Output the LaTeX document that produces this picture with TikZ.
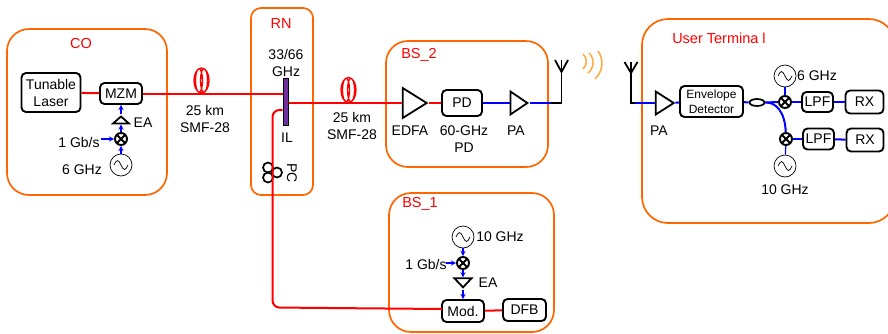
\documentclass[tikz,border=0pt]{standalone}
\usepackage{fontspec}
\setmainfont{Liberation Sans}
\usetikzlibrary{shapes.geometric,calc}

\definecolor{groupcol}{RGB}{255,102,0}
\definecolor{ilcol}{RGB}{112,48,160}
\definecolor{wavecol}{RGB}{255,170,60}

\tikzset{
  group/.style={draw=groupcol, line width=1.7pt, rounded corners=#1, inner sep=0pt},
  group/.default=22pt,
  grouplabel/.style={text=red, font=\fontsize{14.5}{16}\selectfont, inner sep=0pt},
  lbl/.style={font=\fontsize{14}{17}\selectfont, inner sep=0pt, align=center},
  block/.style={draw, line width=1.9pt, rounded corners=4.5pt, inner sep=0pt, align=center, font=\fontsize{14}{17}\selectfont},
  amp/.style={draw, line width=1.8pt, isosceles triangle, isosceles triangle stretches, inner sep=0pt},
  mixer/.style={draw, circle, line width=1.9pt, minimum size=12pt, inner sep=0pt,
    path picture={\draw[line width=1.9pt] (path picture bounding box.north west) -- (path picture bounding box.south east)
      (path picture bounding box.north east) -- (path picture bounding box.south west);}},
  source/.style={draw, circle, line width=.7pt, minimum size=22pt, inner sep=0pt,
    path picture={\draw[line width=.7pt] ($(path picture bounding box.center)+(-7,0)$) sin +(3.5,-4.5) cos +(3.5,4.5) sin +(3.5,4.5) cos +(3.5,-4.5);}},
  coil/.style={draw=red, ellipse, line width=1.4pt, minimum width=15pt, minimum height=25pt, inner sep=0pt,
    path picture={\draw[red, line width=1.3pt] (path picture bounding box.center) ++(-2.5,0) ellipse (3.5pt and 12pt) ++(5,0) ellipse (3.5pt and 12pt);}},
  optical/.style={red, line width=2pt},
  electrical/.style={blue, line width=2pt},
  drive/.style={blue, line width=1.3pt, -stealth},
  antenna/.style={draw, line width=1.8pt},
  wave/.style={wavecol, line width=1.5pt}
}

\begin{document}
\begin{tikzpicture}[x=1pt, y=-1pt]
\useasboundingbox (0,0) rectangle (888,333);

% groups
\node[group, minimum width=160pt, minimum height=166pt] (co) at (87,112) {};
\node[group=10pt, minimum width=62pt, minimum height=187pt] (rn) at (282,101.5) {};
\node[group, minimum width=162pt, minimum height=126pt] (bstwo) at (467,104) {};
\node[group, minimum width=165pt, minimum height=139pt] (bsone) at (471.5,262.5) {};
\node[group=26pt, minimum width=253pt, minimum height=204pt] (user) at (768.5,121) {};
\node[grouplabel] (colabel) at (81,44) {CO};
\node[grouplabel] (rnlabel) at (281,24) {RN};
\node[grouplabel] (bstwolabel) at (419,55) {BS\_2};
\node[grouplabel] (bsonelabel) at (420,204) {BS\_1};
\node[grouplabel] (userlabel) at (719,38) {User Termina l};

% CO
\node[block, minimum width=59pt, minimum height=39pt] (laser) at (51,92.5) {Tunable\\Laser};
\node[block, minimum width=42pt, minimum height=21pt] (mzm) at (121,93.5) {MZM};
\node[amp, shape border rotate=90, minimum width=16pt, minimum height=7pt] (eaco) at (121,120.5) {};
\node[mixer] (mixco) at (121,139) {};
\node[source] (srcco) at (121,165) {};
\node[lbl] (ealabelco) at (143,123) {EA};
\node[lbl] (bitco) at (79,142) {1 Gb/s};
\node[lbl] (ghzco) at (82,170) {6 GHz};
\coordinate (bitcoin) at (101,139);

% fibre
\node[coil] (coilone) at (201.5,80.5) {};
\node[lbl] (fibreone) at (205,118.5) {25 km\\SMF-28};
\node[coil] (coiltwo) at (348.5,90) {};
\node[lbl] (fibretwo) at (352,126) {25 km\\SMF-28};

% RN
\node[lbl] (illabeltop) at (286,62.5) {33/66\\GHz};
\node[draw, fill=ilcol, line width=.5pt, minimum width=5.5pt, minimum height=47pt, inner sep=0pt] (il) at (285.5,101.5) {};
\node[lbl] (illabel) at (287,138) {IL};
\node[draw, circle, line width=1.7pt, minimum size=10pt, inner sep=0pt] (pca) at (268,167.5) {};
\node[draw, circle, line width=1.7pt, minimum size=10pt, inner sep=0pt] (pcb) at (268,177.5) {};
\node[draw, circle, line width=1.7pt, minimum size=10pt, inner sep=0pt] (pcc) at (277,172.5) {};
\node[lbl, rotate=-90] (pclabel) at (292,173) {PC};
\coordinate (ilin) at (282.5,93.5);
\coordinate (ilport) at (282.5,110);
\coordinate (pcbend) at (272.5,110);
\coordinate (modbend) at (272.5,307.5);
\coordinate (modin) at (442,309);

% BS_2
\node[amp, minimum width=30pt, minimum height=24pt] (edfa) at (411,103) {};
\node[block, minimum width=40pt, minimum height=26pt] (pd) at (462,103) {PD};
\node[amp, minimum width=23pt, minimum height=17pt] (pa) at (516.5,103) {};
\node[lbl] (edfalabel) at (410,131) {EDFA};
\node[lbl] (pdlabel) at (464,139.5) {60-GHz\\PD};
\node[lbl] (palabel) at (516,131) {PA};
\coordinate (txfeed) at (551,103);
\coordinate (txbase) at (561.5,103);
\coordinate (txfork) at (561.5,72);
\coordinate (txtop) at (561.5,60);
\coordinate (txleft) at (555,60);
\coordinate (txright) at (568,60);

% BS_1
\node[source] (srcbs) at (463,237) {};
\node[mixer] (mixbs) at (463,263) {};
\node[amp, shape border rotate=-90, minimum width=17pt, minimum height=9pt] (eabs) at (463,282) {};
\node[block, minimum width=42pt, minimum height=22pt] (mod) at (463,311) {Mod.};
\node[block, minimum width=43pt, minimum height=22pt] (dfb) at (524.5,310) {DFB};
\node[lbl] (ghzbs) at (500,237) {10 GHz};
\node[lbl] (bitbs) at (426,264) {1 Gb/s};
\node[lbl] (ealabelbs) at (488,283) {EA};
\coordinate (bitbsin) at (446,263);

% user terminal
\coordinate (rxtop) at (631,62);
\coordinate (rxleft) at (624.5,62);
\coordinate (rxright) at (637.5,62);
\coordinate (rxfork) at (631,73);
\coordinate (rxbase) at (631,103);
\coordinate (rxfeed) at (635,103);
\node[amp, minimum width=23pt, minimum height=18pt] (parx) at (662,103) {};
\node[lbl] (parxlabel) at (659,131) {PA};
\node[block, font=\fontsize{12}{15}\selectfont, minimum width=63pt, minimum height=31pt] (env) at (711.5,101.5) {Envelope\\Detector};
\node[draw, ellipse, line width=1.7pt, minimum width=15pt, minimum height=7pt, inner sep=0pt] (split) at (757,102.5) {};
\node[mixer] (mixup) at (785,102) {};
\node[mixer] (mixlow) at (786,139) {};
\node[source] (srcup) at (785,76) {};
\node[source] (srclow) at (785,166) {};
\node[block, minimum width=31pt, minimum height=20pt] (lpfup) at (817.5,102) {LPF};
\node[block, minimum width=31pt, minimum height=21pt] (lpflow) at (818.5,139) {LPF};
\node[block, minimum width=38pt, minimum height=23pt] (rxup) at (864.5,102) {RX};
\node[block, minimum width=37pt, minimum height=23pt] (rxlow) at (865,140) {RX};
\node[lbl] (ghzup) at (817,76) {6 GHz};
\node[lbl] (ghzlow) at (785,190) {10 GHz};
\coordinate (curvea) at (776,102);
\coordinate (curveb) at (785,112);

% optical path
\draw[optical] (laser) -- (mzm);
\draw[optical] (mzm) -- (ilin);
\draw[optical] (il.east |- edfa) -- (edfa);
\draw[optical] (edfa) -- (pd);
\draw[optical, rounded corners=7pt] (ilport) -- (pcbend) -- (modbend) -- (modin);
\draw[optical] (mod) -- (dfb);

% electrical path
\draw[drive] (srcco) -- (mixco);
\draw[drive] (mixco) -- (eaco);
\draw[drive] (eaco) -- (mzm);
\draw[drive] (bitcoin) -- (mixco);
\draw[drive] (srcbs) -- (mixbs);
\draw[drive] (mixbs) -- (eabs);
\draw[drive] (eabs) -- (mod);
\draw[drive] (bitbsin) -- (mixbs);
\draw[electrical] (pd) -- (pa);
\draw[electrical] (pa) -- (txfeed);
\draw[electrical] (rxfeed) -- (parx);
\draw[electrical] (parx) -- (env);
\draw[electrical] (env) -- (split);
\draw[electrical] (split) -- (mixup);
\draw[electrical] (mixup) -- (lpfup);
\draw[electrical] (lpfup) -- (rxup);
\draw[electrical] (split.east) .. controls (curvea) and (curveb) .. (mixlow);
\draw[electrical] (mixlow) -- (lpflow);
\draw[electrical] (lpflow) -- (rxlow);
\draw[electrical, line width=1.2pt] (srcup) -- (mixup);
\draw[electrical, line width=1.2pt] (srclow) -- (mixlow);

% antennas
\draw[antenna] (txfeed) -- (txbase) -- (txtop);
\draw[antenna] (txleft) -- (txfork) -- (txright);
\draw[antenna] (rxtop) -- (rxbase) -- (rxfeed);
\draw[antenna] (rxleft) -- (rxfork) -- (rxright);

% waves
\draw[wave] (583,54) to[bend left=50] (583,69);
\draw[wave] (589,53) to[bend left=50] (588,73);
\draw[wave] (598,51) to[bend left=40] (595,79);
\end{tikzpicture}
\end{document}
